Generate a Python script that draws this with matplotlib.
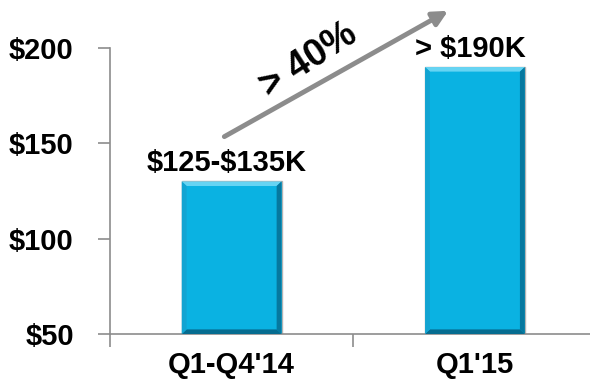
import matplotlib.pyplot as plt
from matplotlib.patches import Polygon

plt.rcParams['font.family'] = ['Liberation Sans', 'DejaVu Sans']
plt.rcParams['font.weight'] = 'bold'

# datos
categorias = ["Q1-Q4'14", "Q1'15"]
valores = [130, 190]
etiquetas = ["$125-$135K", "> $190K"]
marcas_y = [50, 100, 150, 200]
textos_y = ["$50", "$100", "$150", "$200"]
crecimiento = "> 40%"

AZUL = '#0AB2E2'
GRIS = '#8c8c8c'

fig = plt.figure(figsize=(5.9, 3.81), dpi=100)
ax = fig.add_axes([0.1864, 0.1234, 0.8136, 0.7507])

ancho = 0.41
x = list(range(len(categorias)))
barras = ax.bar(x, valores, width=ancho, color=AZUL, edgecolor='#b4b4b4',
                linewidth=1.0, zorder=2)

# biselado de las barras (borde claro arriba, oscuro a la derecha y abajo)
bx, by = 0.02, 2.4
for b in barras:
    x0, x1 = b.get_x(), b.get_x() + b.get_width()
    y0, y1 = 50, b.get_height()
    caras = [
        ([(x0, y1), (x1, y1), (x1 - bx, y1 - by), (x0 + bx, y1 - by)], '#66d4f3'),
        ([(x1, y1), (x1, y0), (x1 - bx, y0 + by), (x1 - bx, y1 - by)], '#06789f'),
        ([(x0, y0), (x1, y0), (x1 - bx, y0 + by), (x0 + bx, y0 + by)], '#056c90'),
        ([(x0, y1), (x0, y0), (x0 + bx, y0 + by), (x0 + bx, y1 - by)], '#12a4d2'),
    ]
    for pts, c in caras:
        ax.add_patch(Polygon(pts, closed=True, facecolor=c, edgecolor='none', zorder=3))

# etiquetas de valor encima de cada barra
for xi, v, t in zip(x, valores, etiquetas):
    ax.annotate(t, (xi - 0.02, v), xytext=(0, 3), textcoords='offset points',
                ha='center', va='bottom', fontsize=21, fontweight='bold',
                annotation_clip=False, parse_math=False)

# flecha de crecimiento
ax.annotate('', xy=(0.89, valores[1] + 29.5), xytext=(-0.03, valores[0] + 23.5),
            arrowprops=dict(arrowstyle='-|>', color=GRIS, lw=3.5,
                            mutation_scale=22, shrinkA=0, shrinkB=0),
            annotation_clip=False)
ax.text(0.315, 193.5, crecimiento, rotation=33, rotation_mode='anchor',
        ha='center', va='center', fontsize=27, fontweight='bold', clip_on=False)

ax.set_ylim(50, 200)
ax.set_xlim(-0.5, 1.473)
ax.set_yticks(marcas_y)
ax.set_yticklabels(textos_y)
ax.set_xticks(x)
ax.set_xticklabels(categorias)
ax.set_xticks([-0.5, 0.5], minor=True)

ax.tick_params(axis='y', length=9, width=1.2, color=GRIS, pad=17, labelsize=21)
ax.tick_params(axis='x', which='major', length=0, pad=12, labelsize=21)
ax.tick_params(axis='x', which='minor', length=9, width=1.2, color=GRIS)

for s in ['top', 'right']:
    ax.spines[s].set_visible(False)
for s in ['left', 'bottom']:
    ax.spines[s].set_color(GRIS)
    ax.spines[s].set_linewidth(1.2)

fig.savefig('out.png', dpi=100)
